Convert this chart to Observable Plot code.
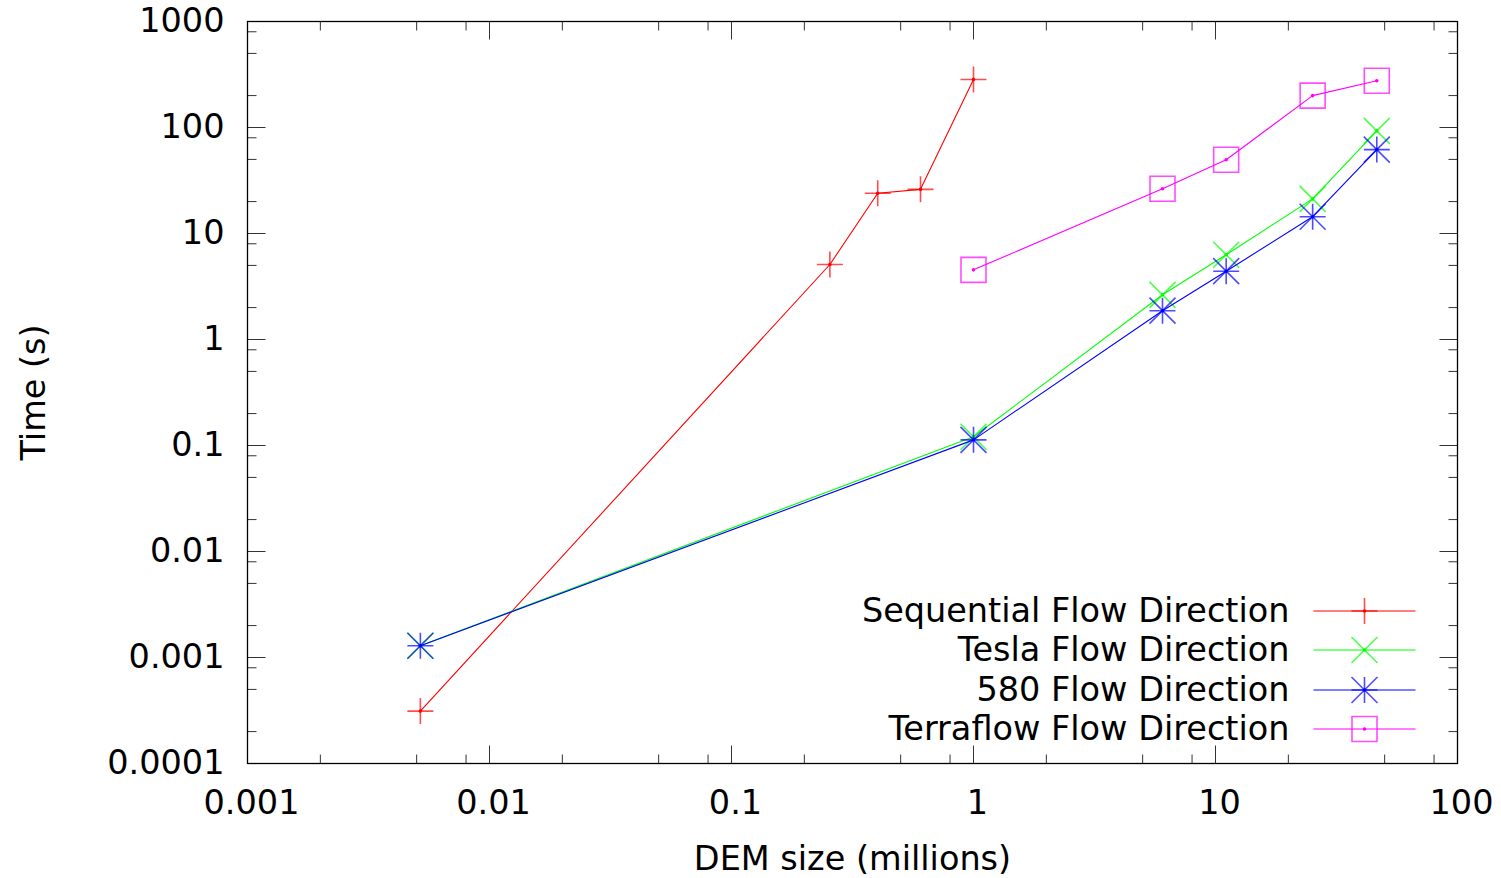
<!DOCTYPE html>
<html>
<head>
<meta charset="utf-8">
<script src="https://cdn.jsdelivr.net/npm/d3@7"></script>
<script src="https://cdn.jsdelivr.net/npm/@observablehq/plot@0.6"></script>
<style>
  html, body { margin: 0; padding: 0; background: white; }
  #chart { width: 1501px; height: 878px; }
</style>
</head>
<body>
<div id="chart"></div>
<script>
// ---------- data ----------
const seriesNames = ["Sequential Flow Direction", "Tesla Flow Direction", "580 Flow Direction", "Terraflow Flow Direction"];
const seriesColors = ["#ff0000", "#00ff00", "#0000ff", "#ff00ff"];

const seqX   = [0.00518, 0.255, 0.402, 0.604, 1.0];
const seqY   = [0.000312, 5.10, 24.0, 26.1, 284];
const teslaX = [0.00518, 1.0, 6.04, 11.07, 25.2, 46.4];
const teslaY = [0.00129, 0.121, 2.64, 6.30, 21.2, 93];
const gtxX   = [0.00518, 1.0, 6.04, 11.07, 25.2, 46.4];
const gtxY   = [0.00129, 0.113, 1.87, 4.41, 14.4, 61.9];
const terraX = [1.0, 6.04, 11.07, 25.2, 46.4];
const terraY = [4.54, 26.4, 49.6, 200, 276];

const xTicks = [0.001, 0.01, 0.1, 1, 10, 100];
const xTickLabels = ["0.001", "0.01", "0.1", "1", "10", "100"];
const yTicks = [0.0001, 0.001, 0.01, 0.1, 1, 10, 100, 1000];
const yTickLabels = ["0.0001", "0.001", "0.01", "0.1", "1", "10", "100", "1000"];
const minorMultipliers = [2, 5, 8];

const xLabel = "DEM size (millions)";
const yLabel = "Time (s)";

// ---------- build ----------
const seriesX = [seqX, teslaX, gtxX, terraX];
const seriesY = [seqY, teslaY, gtxY, terraY];
const rows = [];
seriesNames.forEach((name, s) => {
  seriesX[s].forEach((x, i) => rows.push({series: name, s, x, y: seriesY[s][i]}));
});

function minorOf(majors) {
  const out = [];
  for (let i = 0; i < majors.length - 1; i++) for (const m of minorMultipliers) out.push(majors[i] * m);
  return out;
}
const xMinor = minorOf(xTicks);
const yMinor = minorOf(yTicks);

// custom symbols (r = half length in px)
function sym(draw) { return {draw(ctx, size) { draw(ctx, Math.sqrt(size / Math.PI)); }}; }
const gpPlus  = sym((c, r) => { c.moveTo(-r, 0); c.lineTo(r, 0); c.moveTo(0, -r); c.lineTo(0, r); });
const gpCross = sym((c, r) => { c.moveTo(-r, -r); c.lineTo(r, r); c.moveTo(-r, r); c.lineTo(r, -r); });
const gpStar  = sym((c, r) => { c.moveTo(-r, 0); c.lineTo(r, 0); c.moveTo(0, -r); c.lineTo(0, r);
                                 c.moveTo(-r, -r); c.lineTo(r, r); c.moveTo(-r, r); c.lineTo(r, -r); });
const gpBox   = sym((c, r) => { c.moveTo(-r, -r); c.lineTo(r, -r); c.lineTo(r, r); c.lineTo(-r, r); c.closePath(); });
const hLine   = sym((c, r) => { c.moveTo(-r, 0); c.lineTo(r, 0); });
const tickUp    = sym((c, r) => { c.moveTo(0, 0); c.lineTo(0, -r); });
const tickDown  = sym((c, r) => { c.moveTo(0, 0); c.lineTo(0, r); });
const tickRight = sym((c, r) => { c.moveTo(0, 0); c.lineTo(r, 0); });
const tickLeft  = sym((c, r) => { c.moveTo(0, 0); c.lineTo(-r, 0); });

const markerSyms = [gpPlus, gpCross, gpStar, gpBox];
const markerR = [13, 13, 13, 12.5];

const xDomain = [xTicks[0], xTicks[xTicks.length - 1]];
const yDomain = [yTicks[0], yTicks[yTicks.length - 1]];
const FONT = "DejaVu Sans";
const FS = 33.5;
const tickColor = "#333";

const marks = [];

// inward ticks on all four sides
for (const [vals, len] of [[xTicks, 18], [xMinor, 9]]) {
  marks.push(Plot.dot(vals, {x: d => d, y: yDomain[0], symbol: tickUp, r: len, fill: "none", stroke: tickColor, strokeWidth: 1}));
  marks.push(Plot.dot(vals, {x: d => d, y: yDomain[1], symbol: tickDown, r: len, fill: "none", stroke: tickColor, strokeWidth: 1}));
}
for (const [vals, len] of [[yTicks, 18], [yMinor, 9]]) {
  marks.push(Plot.dot(vals, {y: d => d, x: xDomain[0], symbol: tickRight, r: len, fill: "none", stroke: tickColor, strokeWidth: 1}));
  marks.push(Plot.dot(vals, {y: d => d, x: xDomain[1], symbol: tickLeft, r: len, fill: "none", stroke: tickColor, strokeWidth: 1}));
}

marks.push(Plot.frame({stroke: "black", strokeWidth: 1.3}));

// axes labels
marks.push(Plot.axisX({ticks: xTicks, tickFormat: (d) => xTickLabels[xTicks.indexOf(d)], tickSize: 0, tickPadding: 27, dx: 4,
  fontSize: FS, fontFamily: FONT, fill: "black", label: null}));
marks.push(Plot.axisY({ticks: yTicks, tickFormat: (d) => yTickLabels[yTicks.indexOf(d)], tickSize: 0, tickPadding: 23,
  fontSize: FS, fontFamily: FONT, fill: "black", label: null}));
marks.push(Plot.text([xLabel], {frameAnchor: "bottom", dy: 96, textAnchor: "middle", fontSize: FS, fontFamily: FONT, fill: "black", lineAnchor: "middle"}));
marks.push(Plot.text([yLabel], {frameAnchor: "left", dx: -213, rotate: -90, textAnchor: "middle", fontSize: FS, fontFamily: FONT, fill: "black", lineAnchor: "middle"}));

// series
seriesNames.forEach((name, s) => {
  const data = rows.filter(d => d.s === s);
  marks.push(Plot.line(data, {x: "x", y: "y", stroke: seriesColors[s], strokeWidth: 1.1}));
  marks.push(Plot.dot(data, {x: "x", y: "y", symbol: markerSyms[s], r: markerR[s], fill: "none", stroke: seriesColors[s], strokeWidth: 1.6, strokeOpacity: 0.7}));
  marks.push(Plot.dot(data, {x: "x", y: "y", r: 1.8, fill: seriesColors[s], stroke: "none"}));
});

// legend (inside plot, bottom-right)
const legendDy = [-152.5, -113.5, -73.5, -34.5];
seriesNames.forEach((name, s) => {
  marks.push(Plot.text([name], {frameAnchor: "bottom-right", dx: -168, dy: legendDy[s], textAnchor: "end", lineAnchor: "middle",
    fontSize: FS, fontFamily: FONT, fill: "black"}));
  marks.push(Plot.dot([name], {frameAnchor: "bottom-right", dx: -93, dy: legendDy[s], symbol: hLine, r: 51, fill: "none", stroke: seriesColors[s], strokeWidth: 1.2}));
  marks.push(Plot.dot([name], {frameAnchor: "bottom-right", dx: -93, dy: legendDy[s], symbol: markerSyms[s], r: markerR[s], fill: "none", stroke: seriesColors[s], strokeWidth: 1.6, strokeOpacity: 0.7}));
  marks.push(Plot.dot([name], {frameAnchor: "bottom-right", dx: -93, dy: legendDy[s], r: 1.8, fill: seriesColors[s], stroke: "none"}));
});

const chart = Plot.plot({
  width: 1501,
  height: 878,
  marginLeft: 247,
  marginRight: 44,
  marginTop: 21,
  marginBottom: 115,
  style: {fontFamily: FONT, fontSize: "33.5px", background: "white", overflow: "visible"},
  x: {type: "log", domain: xDomain, axis: null},
  y: {type: "log", domain: yDomain, axis: null},
  marks
});
document.getElementById("chart").appendChild(chart);
</script>
</body>
</html>
